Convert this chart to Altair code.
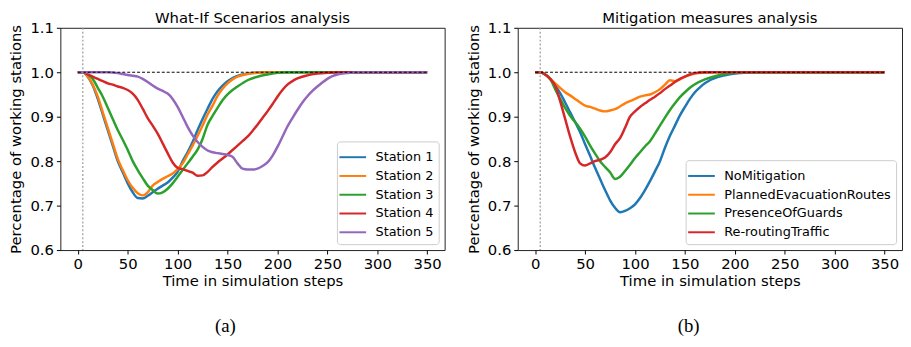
import altair as alt
import pandas as pd

# ---------------- Panel (a): What-If scenarios ----------------
s1_t = [0, 5, 10, 15, 20, 25, 30, 35, 40, 45, 50, 55, 60, 65, 70, 75, 80, 85, 90, 95, 100,
        105, 110, 115, 120, 125, 130, 135, 140, 145, 150, 155, 160, 170, 180, 190, 350]
s1_v = [1.0, 1.0, 0.99, 0.97, 0.94, 0.905, 0.87, 0.835, 0.80, 0.775, 0.75, 0.73, 0.717, 0.716,
        0.722, 0.73, 0.738, 0.745, 0.752, 0.763, 0.776, 0.80, 0.82, 0.843, 0.87, 0.895, 0.918,
        0.94, 0.957, 0.97, 0.98, 0.987, 0.992, 0.997, 0.999, 1.0, 1.0]

s2_t = [0, 5, 10, 15, 20, 25, 30, 35, 40, 45, 50, 55, 60, 65, 70, 75, 80, 85, 90, 95, 100,
        105, 110, 115, 120, 125, 130, 135, 140, 145, 150, 155, 160, 170, 180, 190, 350]
s2_v = [1.0, 1.0, 0.99, 0.972, 0.945, 0.91, 0.875, 0.84, 0.805, 0.78, 0.757, 0.74, 0.728, 0.723,
        0.73, 0.745, 0.753, 0.76, 0.766, 0.772, 0.782, 0.795, 0.815, 0.835, 0.857, 0.88, 0.905,
        0.925, 0.947, 0.963, 0.975, 0.984, 0.99, 0.996, 0.999, 1.0, 1.0]

s3_t = [0, 5, 10, 15, 20, 25, 30, 35, 40, 45, 50, 55, 60, 65, 70, 75, 80, 85, 90, 95, 100,
        105, 110, 115, 120, 125, 130, 135, 140, 145, 150, 155, 160, 170, 180, 190, 200, 210, 350]
s3_v = [1.0, 1.0, 0.995, 0.985, 0.965, 0.945, 0.92, 0.895, 0.87, 0.848, 0.825, 0.80, 0.78, 0.762,
        0.745, 0.735, 0.727, 0.73, 0.738, 0.75, 0.765, 0.78, 0.795, 0.81, 0.826, 0.85, 0.882,
        0.902, 0.92, 0.937, 0.95, 0.96, 0.968, 0.982, 0.99, 0.995, 0.999, 1.0, 1.0]

s4_t = [0, 5, 10, 15, 20, 25, 30, 35, 40, 45, 50, 55, 60, 65, 70, 75, 80, 85, 90, 95, 100,
        105, 110, 115, 120, 125, 130, 135, 140, 145, 150, 155, 160, 165, 170, 175, 180, 185,
        190, 195, 200, 205, 210, 215, 220, 230, 240, 250, 260, 350]
s4_v = [1.0, 1.0, 0.995, 0.99, 0.985, 0.98, 0.975, 0.972, 0.968, 0.965, 0.96, 0.952, 0.938,
        0.918, 0.897, 0.88, 0.862, 0.84, 0.818, 0.797, 0.785, 0.782, 0.778, 0.774, 0.767, 0.768,
        0.776, 0.787, 0.797, 0.806, 0.815, 0.825, 0.835, 0.845, 0.855, 0.868, 0.882, 0.897,
        0.912, 0.928, 0.945, 0.96, 0.972, 0.98, 0.986, 0.993, 0.997, 0.999, 1.0, 1.0]

s5_t = [0, 10, 20, 30, 40, 45, 50, 55, 60, 65, 70, 75, 80, 85, 90, 95, 100, 105, 110, 115, 120,
        125, 130, 135, 140, 145, 150, 155, 160, 165, 170, 175, 180, 185, 190, 195, 200, 205,
        210, 215, 220, 225, 230, 235, 240, 245, 250, 255, 260, 270, 280, 350]
s5_v = [1.0, 1.0, 1.0, 1.0, 0.998, 0.996, 0.994, 0.992, 0.99, 0.985, 0.978, 0.97, 0.963, 0.958,
        0.952, 0.94, 0.922, 0.90, 0.877, 0.858, 0.843, 0.832, 0.824, 0.82, 0.818, 0.816, 0.814,
        0.81, 0.795, 0.783, 0.781, 0.781, 0.783, 0.789, 0.797, 0.812, 0.832, 0.855, 0.878, 0.897,
        0.915, 0.932, 0.946, 0.958, 0.968, 0.977, 0.985, 0.991, 0.995, 0.998, 1.0, 1.0]

names_a = ["Station 1", "Station 2", "Station 3", "Station 4", "Station 5"]

# ---------------- Panel (b): Mitigation measures ----------------
m1_t = [0, 5, 10, 15, 20, 25, 30, 35, 40, 45, 50, 55, 60, 65, 70, 75, 80, 85, 90, 95, 100,
        105, 110, 115, 120, 125, 130, 135, 140, 145, 150, 155, 160, 165, 170, 175, 180, 190,
        200, 210, 230, 350]
m1_v = [1.0, 1.0, 0.995, 0.985, 0.97, 0.953, 0.932, 0.91, 0.888, 0.865, 0.838, 0.812, 0.785,
        0.76, 0.735, 0.712, 0.695, 0.685, 0.688, 0.694, 0.703, 0.717, 0.735, 0.755, 0.777, 0.80,
        0.83, 0.857, 0.88, 0.903, 0.922, 0.94, 0.955, 0.966, 0.975, 0.982, 0.987, 0.993, 0.997,
        0.999, 1.0, 1.0]

m2_t = [0, 5, 10, 15, 20, 25, 30, 35, 40, 45, 50, 55, 60, 65, 70, 75, 80, 85, 90, 95, 100,
        105, 110, 115, 120, 125, 130, 135, 140, 145, 150, 155, 160, 170, 180, 350]
m2_v = [1.0, 1.0, 0.995, 0.985, 0.975, 0.965, 0.955, 0.948, 0.94, 0.932, 0.925, 0.922, 0.918,
        0.914, 0.912, 0.914, 0.917, 0.923, 0.93, 0.935, 0.94, 0.945, 0.948, 0.95, 0.955, 0.962,
        0.972, 0.982, 0.98, 0.984, 0.99, 0.994, 0.997, 0.999, 1.0, 1.0]

m3_t = [0, 5, 10, 15, 20, 25, 30, 35, 40, 45, 50, 55, 60, 65, 70, 75, 80, 85, 90, 95, 100,
        105, 110, 115, 120, 125, 130, 135, 140, 145, 150, 155, 160, 170, 180, 190, 200, 210, 350]
m3_v = [1.0, 1.0, 0.995, 0.985, 0.962, 0.94, 0.92, 0.902, 0.888, 0.873, 0.855, 0.835, 0.817,
        0.80, 0.787, 0.775, 0.76, 0.765, 0.778, 0.792, 0.807, 0.82, 0.833, 0.845, 0.862, 0.88,
        0.898, 0.915, 0.93, 0.944, 0.955, 0.965, 0.973, 0.984, 0.991, 0.996, 0.999, 1.0, 1.0]

m4_t = [0, 5, 10, 15, 20, 25, 30, 35, 40, 45, 50, 55, 60, 65, 70, 75, 80, 85, 90, 95, 100,
        105, 110, 115, 120, 125, 130, 135, 140, 145, 150, 155, 160, 170, 350]
m4_v = [1.0, 1.0, 0.995, 0.985, 0.97, 0.935, 0.895, 0.855, 0.82, 0.795, 0.79, 0.795, 0.80,
        0.803, 0.808, 0.82, 0.838, 0.852, 0.875, 0.90, 0.912, 0.922, 0.93, 0.938, 0.945, 0.953,
        0.962, 0.97, 0.978, 0.985, 0.99, 0.995, 0.998, 1.0, 1.0]

names_b = ["NoMitigation", "PlannedEvacuationRoutes", "PresenceOfGuards", "Re-routingTraffic"]

colors = ["#1f77b4", "#ff7f0e", "#2ca02c", "#d62728", "#9467bd"]

ref_t = [0, 350]
ref_v = [1.0, 1.0]
start_step = [5]

x_ticks = [0, 50, 100, 150, 200, 250, 300, 350]
y_ticks = [0.6, 0.7, 0.8, 0.9, 1.0, 1.1]


def long_df(names, ts, vs):
    rows = []
    for n, t, v in zip(names, ts, vs):
        for a, b in zip(t, v):
            rows.append({"series": n, "t": a, "v": b})
    return pd.DataFrame(rows)


df_a = long_df(names_a, [s1_t, s2_t, s3_t, s4_t, s5_t], [s1_v, s2_v, s3_v, s4_v, s5_v])
df_b = long_df(names_b, [m1_t, m2_t, m3_t, m4_t], [m1_v, m2_v, m3_v, m4_v])
df_ref = pd.DataFrame({"t": ref_t, "v": ref_v})
df_start = pd.DataFrame({"t": start_step})

W, H = 389, 225
FS = 15

xscale = alt.Scale(domain=[-17.5, 367.5], nice=False, zero=False)
yscale = alt.Scale(domain=[0.6, 1.1], nice=False, zero=False)

xaxis = alt.Axis(values=x_ticks, title="Time in simulation steps", grid=False,
                 domain=False, tickColor="#000", tickSize=4, labelPadding=3,
                 titlePadding=2, labelFontSize=FS, titleFontSize=FS,
                 labelColor="#000", titleColor="#000", titleFontWeight="normal")
yaxis = alt.Axis(values=y_ticks, format=".1f", title="Percentage of working stations",
                 grid=False, domain=False, tickColor="#000", tickSize=4, labelPadding=3,
                 titlePadding=6, labelFontSize=FS, titleFontSize=FS,
                 labelColor="#000", titleColor="#000", titleFontWeight="normal")


def panel(df, names, cols, title, caption, cap_x):
    legend = alt.Legend(title=None, orient="bottom-right", offset=6, fillColor="white",
                        strokeColor="#cccccc", cornerRadius=3, padding=5,
                        labelFontSize=13, labelColor="#000",
                        symbolType="M-1.35,0L1.35,0", symbolFillColor="transparent",
                        symbolStrokeWidth=2, symbolSize=400, labelLimit=400,
                        rowPadding=1, labelOffset=12)
    lines = alt.Chart(df).mark_line(strokeWidth=2.5, interpolate="monotone").encode(
        x=alt.X("t:Q", scale=xscale, axis=xaxis),
        y=alt.Y("v:Q", scale=yscale, axis=yaxis),
        color=alt.Color("series:N", scale=alt.Scale(domain=names, range=cols),
                        sort=names, legend=legend),
    )
    ref = alt.Chart(df_ref).mark_line(color="black", strokeWidth=1,
                                      strokeDash=[3, 2]).encode(
        x=alt.X("t:Q", scale=xscale), y=alt.Y("v:Q", scale=yscale))
    vline = alt.Chart(df_start).mark_rule(color="#999999", strokeWidth=1.2,
                                          strokeDash=[2, 2]).encode(
        x=alt.X("t:Q", scale=xscale))
    cap = alt.Chart(pd.DataFrame({"c": [caption]})).mark_text(
        font="Liberation Serif", fontSize=19, color="#000", baseline="middle").encode(
        text="c:N", x=alt.value(cap_x), y=alt.value(302))
    return alt.layer(lines, ref, vline, cap).properties(
        width=W, height=H,
        title=alt.TitleParams(title, fontSize=FS, fontWeight="normal", color="#000",
                              offset=-5, anchor="middle", frame="group"))


left = panel(df_a, names_a, colors, "What-If Scenarios analysis", "(a)", 167)
right = panel(df_b, names_b, colors[:4], "Mitigation measures analysis", "(b)", 173)

chart = alt.hconcat(left, right, spacing=20).resolve_scale(color="independent").properties(
    padding=0
).configure(
    font="DejaVu Sans"
).configure_view(stroke="#222", strokeWidth=1).configure_concat(spacing=20)

chart.save("out.html", embed_options={"renderer": "svg", "actions": False})
